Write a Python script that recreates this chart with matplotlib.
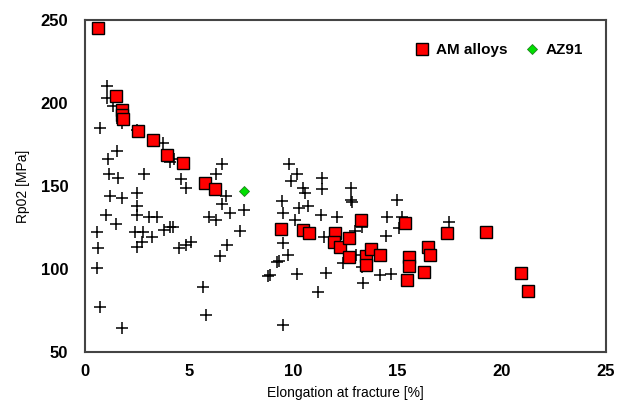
import matplotlib
matplotlib.use("Agg")
import matplotlib.pyplot as plt
import matplotlib.lines as mlines

# AM alloys (red squares)
am_x = [0.62, 1.49, 1.8, 1.8, 1.85, 2.54, 3.26, 3.93, 4.7, 5.76, 6.24,
        9.4, 10.46, 10.75, 12.0, 11.95, 12.24, 12.67, 12.67, 13.24, 13.48,
        13.48, 13.72, 14.16, 15.36, 15.55, 15.55, 15.45, 16.3, 16.46, 16.55,
        17.37, 19.24, 20.92, 21.26]
am_y = [245, 204, 196, 193, 190.5, 183, 177.5, 168.5, 164, 152, 148,
        124, 123.5, 121.5, 121.5, 116, 113, 118.5, 107, 129.5, 107.8,
        102.4, 112, 108.4, 127.7, 107, 102, 93.4, 98, 113, 108.4,
        121.7, 122, 97.4, 86.7]

# AZ91 (green diamond)
az_x = [7.63]
az_y = [147]

# other alloys (crosses)
oth_x = [1.06, 1.06, 1.34, 1.78, 0.72, 2.5, 3.74, 4.27, 4.08, 4.6, 1.54, 1.1,
         1.15, 1.58, 2.83, 1.2, 1.78, 2.5, 2.5, 1.0, 2.5, 3.1, 3.45, 1.49,
         0.58, 2.4, 2.78, 3.79, 4.08, 4.22, 3.2, 2.74, 2.5, 0.62, 4.51, 4.85,
         5.1, 0.58, 0.72, 1.78,
         6.6, 6.3, 4.85, 6.77, 6.57, 6.96, 7.63, 5.95, 6.29, 7.44, 6.81, 6.48,
         5.66, 5.8, 8.8,
         9.8, 10.2, 9.9, 10.46, 10.56, 11.4, 11.4, 12.76, 12.76, 12.8, 9.45,
         9.5, 10.27, 10.7, 10.1, 11.32, 12.1, 14.5, 15.0, 15.2, 14.45, 13.3,
         11.5, 9.5, 9.74, 9.2, 9.3, 8.9, 10.17, 11.56, 11.2, 12.4, 13.0, 13.3,
         13.34, 14.15, 14.7, 15.07, 17.5, 9.5, 12.95]
oth_y = [210, 203, 198, 188, 185, 184, 176, 166, 164.5, 154, 171, 166,
         157, 155, 157, 144, 143, 146, 138, 132.5, 132.5, 131, 131, 127,
         122, 122, 122, 123.5, 125, 125.5, 119, 116, 113, 112.6, 112.6, 114.5,
         116, 100.6, 77, 64.5,
         163, 157, 149, 144, 139, 134, 135.5, 131, 129.5, 123, 114.5, 108,
         89, 72, 96,
         163, 157, 153, 149, 146, 155, 148, 149, 141.5, 140.5, 141,
         134, 137, 138, 129.5, 132.5, 131, 131, 141.5, 131, 120, 125.3,
         119, 115.7, 108.4, 104, 105, 96.4, 97, 97.6, 86, 103.6, 108.4, 101,
         91.6, 96.4, 97, 124.7, 128.3, 66.3, 123]

fig = plt.figure(figsize=(6.29, 4.11), dpi=100)
ax = fig.add_axes([0.135, 0.144, 0.828, 0.807])

ax.plot(oth_x, oth_y, linestyle="none", marker="+", color="black",
        markersize=8, markeredgewidth=1.1, zorder=2)
ax.plot(am_x, am_y, linestyle="none", marker="s", markerfacecolor="#ff0000",
        markeredgecolor="black", markeredgewidth=1.0, markersize=8.5, zorder=3)
ax.plot(az_x, az_y, linestyle="none", marker="D", markerfacecolor="#00e000",
        markeredgecolor="#208020", markeredgewidth=0.6, markersize=5, zorder=3)

ax.set_xlim(0, 25)
ax.set_ylim(50, 250)
ax.set_xticks([0, 5, 10, 15, 20, 25])
ax.set_yticks([50, 100, 150, 200, 250])
ax.tick_params(axis="x", length=0, pad=9)
ax.tick_params(axis="y", length=0, pad=12)
for lab in ax.get_xticklabels() + ax.get_yticklabels():
    lab.set_fontfamily("Liberation Sans")
    lab.set_fontweight("bold")
    lab.set_fontsize(12)
for s in ax.spines.values():
    s.set_color("#444444")
    s.set_linewidth(1.5)

ax.set_xlabel("Elongation at fracture [%]", fontsize=10,
              family="Liberation Sans", labelpad=5)
ax.set_ylabel("Rp02 [MPa]", fontsize=10, family="Liberation Sans", labelpad=8)

handles = [
    mlines.Line2D([], [], linestyle="none", marker="s", markerfacecolor="#ff0000",
                  markeredgecolor="black", markersize=8, label="AM alloys"),
    mlines.Line2D([], [], linestyle="none", marker="D", markerfacecolor="#00e000",
                  markeredgecolor="#208020", markeredgewidth=0.6, markersize=5,
                  label="AZ91"),
]
ax.legend(handles=handles, loc="upper right", ncol=2, frameon=False,
          prop={"family": "Liberation Sans", "weight": "bold", "size": 11},
          handletextpad=0.3, columnspacing=1.0, borderaxespad=1.1,
          handlelength=1.2)

fig.savefig("out.png", dpi=100)
